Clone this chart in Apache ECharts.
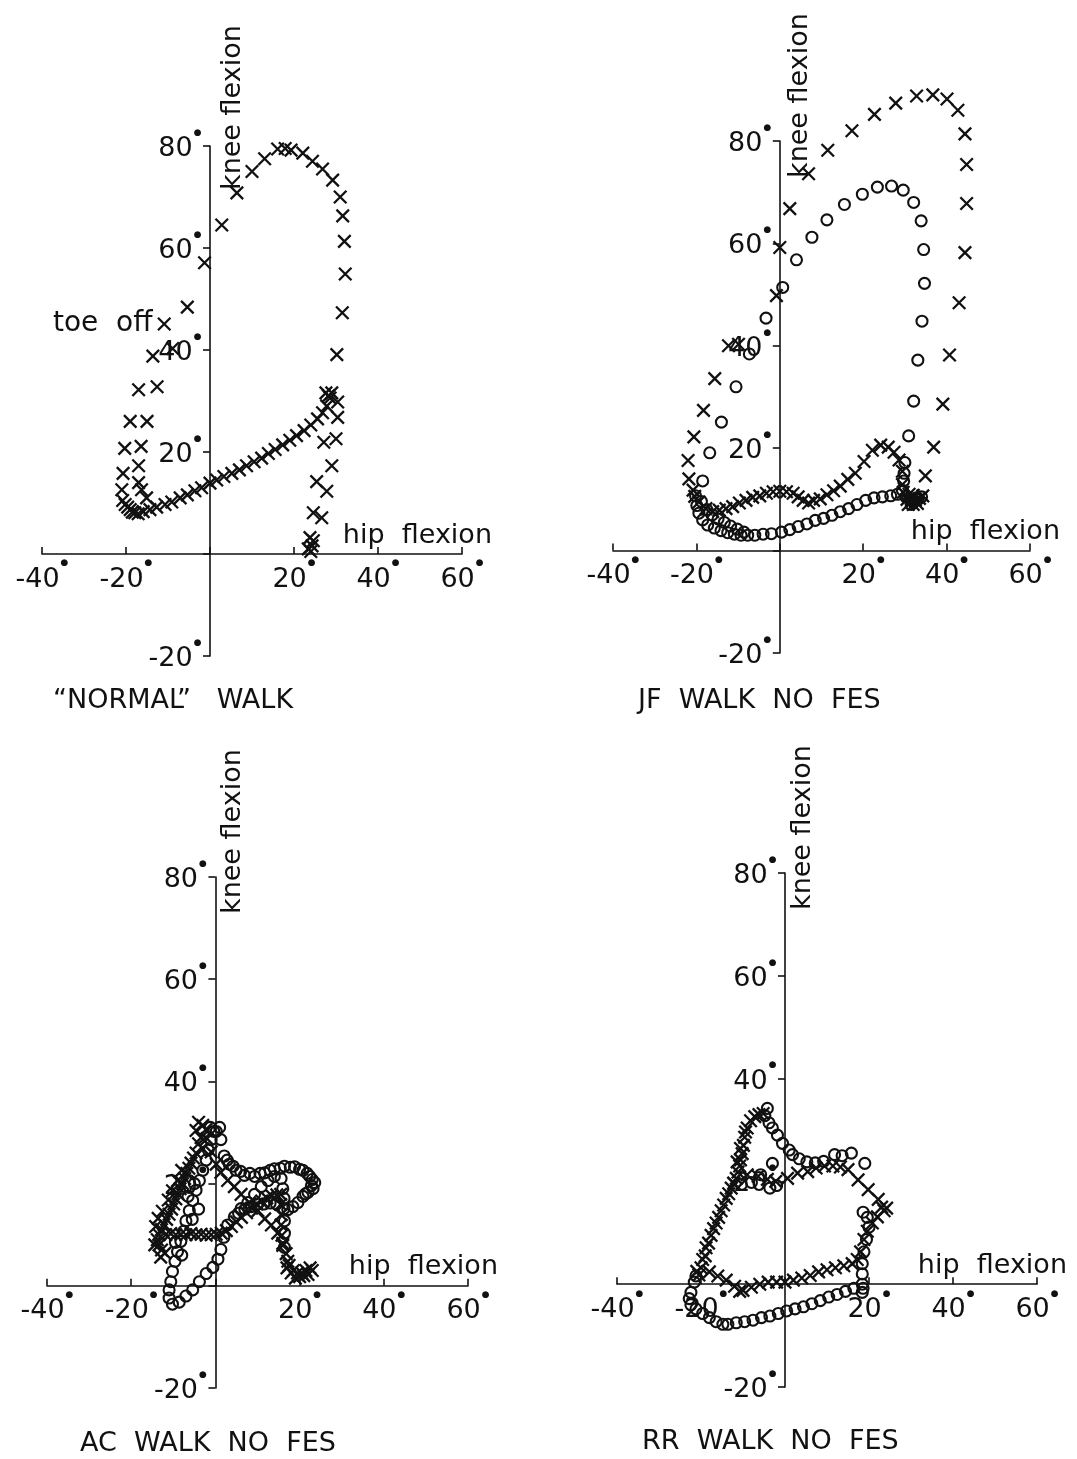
<!DOCTYPE html>
<html>
<head>
<meta charset="utf-8">
<script src="https://cdn.jsdelivr.net/npm/echarts@6/dist/echarts.min.js"></script>
<style>
html,body{margin:0;padding:0;background:#fff;}
#chart{width:1077px;height:1459px;}
</style>
</head>
<body>
<div id="chart"></div>
<script>
// ---------------- data ----------------
const xTicks = [-40, -20, 0, 20, 40, 60];
const yTicks = [-20, 0, 20, 40, 60, 80];
const panelTitles = ['\u201CNORMAL\u201D   WALK', 'JF  WALK  NO  FES', 'AC  WALK  NO  FES', 'RR  WALK  NO  FES'];
const xName = 'hip  flexion';
const yName = 'knee flexion';
const toeOffText = 'toe  off';

// Panel 1: "NORMAL" walk (crosses)
const normalCross = [
  [-10.9,45.1],[-13.6,38.8],[-8.9,40.3],[-5.4,48.4],[-1.3,57.1],[2.8,64.5],[6.4,70.8],[10.0,75.0],[13.0,77.5],
  [16.1,79.4],[17.9,79.5],[19.3,79.2],[22.1,78.6],[24.4,77.0],[26.8,75.5],[29.2,73.3],[31.0,70.0],[31.6,66.3],
  [32.0,61.3],[32.2,54.9],[31.5,47.3],[30.2,39.1],
  [28.2,31.0],[29.0,31.6],[27.6,31.6],[28.6,30.6],[30.4,29.8],[30.4,26.8],[30.0,22.6],[27.1,21.9],[29.0,17.3],
  [25.4,14.2],[27.8,12.3],[24.6,8.1],[26.6,7.1],[23.8,3.2],[24.6,2.6],[23.4,1.0],[24.0,0.5],[24.3,1.6],
  [-15.9,8.3],[-14.3,8.7],[-12.7,9.2],[-10.7,9.7],[-9.1,10.2],[-7.1,11.0],[-5.4,11.6],[-3.6,12.4],[-2.0,13.0],
  [0.0,13.9],[1.6,14.5],[3.3,15.2],[5.2,15.8],[7.0,16.5],[8.7,17.3],[10.5,18.1],[12.3,18.8],[13.9,19.7],
  [15.5,20.5],[17.3,21.4],[19.0,22.3],[20.6,23.2],[22.4,24.2],[24.0,25.3],[25.6,26.5],[26.8,27.7],[27.8,29.0],
  [-17.0,32.2],[-12.6,32.8],[-19.0,26.0],[-15.0,26.0],[-20.3,20.7],[-16.4,21.1],[-20.7,15.8],[-17.0,17.3],
  [-21.0,12.6],[-17.0,14.0],[-16.3,12.6],[-15.1,11.0],[-20.8,10.5],[-20.2,9.7],[-19.0,8.7],[-17.9,8.1],
  [-17.1,7.9],[-18.5,8.2],[-19.6,9.2]
];

// Panel 2: JF walk no FES
const jfCross = [
  [-22.0,17.6],[-20.6,22.2],[-18.3,27.4],[-15.6,33.6],[-12.3,40.0],[-9.9,40.3],[-0.8,49.8],[0.0,59.2],[2.4,66.8],
  [6.9,73.6],[11.5,78.2],[17.3,82.0],[22.7,85.2],[27.8,87.4],[32.8,88.8],[36.7,89.0],[40.1,88.2],[42.7,86.0],
  [44.4,81.4],[44.8,75.4],[44.8,67.8],[44.4,58.2],[43.0,48.4],[40.7,38.2],[39.1,28.6],[36.9,20.2],[34.9,14.6],
  [-21.8,14.0],[-20.8,11.8],[-20.4,10.6],[-19.4,9.5],[-17.7,8.2],[-16.1,7.6],[-14.5,7.9],[-12.9,8.2],[-11.3,8.6],
  [-9.7,9.3],[-8.1,9.8],[-6.5,10.4],[-4.8,10.7],[-3.2,11.2],[-1.6,11.5],[0.0,11.6],[1.6,11.5],[3.2,11.2],
  [4.4,10.5],[5.6,9.8],[6.9,9.3],[8.1,9.8],[9.7,10.1],[11.3,10.9],[12.9,11.7],[14.5,12.6],[16.3,13.9],
  [18.1,15.1],[20.2,17.4],[22.2,19.6],[24.2,20.6],[26.0,20.2],[27.4,19.2],[28.6,17.7],[29.4,15.5],[29.4,12.9],
  [29.6,11.4],
  [30.5,10.0],[31.5,9.5],[32.5,9.8],[33.5,10.2],[34.3,10.7],[31.0,11.0],[32.0,10.8],[33.0,9.2],[30.8,9.0],[32.0,9.0]
];
const jfCircle = [
  [-18.5,13.6],[-16.8,19.1],[-14.0,25.1],[-10.5,32.0],[-7.3,38.4],[-3.3,45.4],[0.7,51.4],[4.0,56.8],[7.7,61.2],
  [11.3,64.6],[15.5,67.6],[19.8,69.6],[23.4,71.0],[26.8,71.2],[29.6,70.4],[32.1,68.0],[33.9,64.4],[34.5,58.8],
  [34.7,52.2],[34.1,44.8],[33.1,37.2],[32.1,29.2],[30.9,22.4],[30.0,17.2],
  [-20.2,10.7],[-19.9,8.8],[-19.4,7.3],[-18.5,6.0],[-17.3,5.0],[-15.7,4.4],[-14.1,3.9],[-12.5,3.5],[-10.9,3.2],
  [-9.3,3.0],[-7.7,3.0],[-6.0,3.0],[-4.0,3.2],[-2.0,3.3],[0.4,3.6],[2.4,4.1],[4.4,4.7],[6.5,5.2],[8.5,5.9],
  [10.5,6.3],[12.5,6.9],[14.5,7.6],[16.5,8.2],[18.5,9.0],[20.6,9.8],[22.6,10.3],[24.6,10.5],[26.6,10.7],
  [28.2,11.0],[29.4,11.8],[29.7,13.6],[29.8,15.1],
  [-18.8,9.6],[-17.5,8.0],[-16.2,7.0],[-14.8,6.2],[-13.3,5.5],[-11.8,4.8],[-10.2,4.2],[-8.6,3.6],
  [30.2,10.5],[31.2,10.0],[32.2,9.5],[33.2,10.0],[34.0,10.5],[31.5,9.0]
];

// Panel 3: AC walk no FES
const acCross = [
  [-4.0,32.0],[-3.0,31.4],[-2.2,30.6],[-4.6,30.4],[-3.4,29.0],[-2.0,28.8],[-4.0,27.8],[-3.0,26.8],[-4.6,26.0],
  [-5.2,25.0],[-5.8,24.0],[-6.3,23.0],[-6.8,22.0],[-7.3,21.0],[-7.8,20.0],[-8.4,19.0],[-8.9,18.0],[-9.4,17.0],
  [-9.9,16.0],[-10.4,15.0],[-11.0,14.0],[-11.6,13.0],[-12.2,12.0],[-12.8,11.0],[-13.4,10.0],[-13.8,9.0],
  [-13.4,8.0],[-12.8,7.0],[-12.0,6.4],
  [-13.6,13.2],[-12.6,14.6],[-14.2,11.6],[-11.2,16.8],[-10.2,18.6],[-9.0,20.6],[-8.0,22.6],[-14.4,8.0],[-13.0,5.6],
  [-11.8,10.0],[-10.6,10.2],[-9.4,10.0],[-8.2,10.1],[-7.0,10.0],[-5.8,10.2],[-4.6,10.0],[-3.4,10.1],[-2.2,9.9],
  [-1.0,10.0],[0.2,10.1],[1.4,10.3],[2.6,10.8],
  [3.8,11.6],[5.0,12.5],[6.2,13.4],[7.4,14.3],[8.6,15.2],[9.8,16.0],[11.0,16.6],[12.2,17.2],[13.4,17.6],[14.6,17.8],
  [-1.0,26.2],[0.2,23.8],[1.3,22.2],[2.9,20.6],[4.5,19.4],[6.1,17.9],[8.1,16.3],[10.1,14.7],[11.7,13.1],
  [13.3,11.9],[14.8,10.3],[16.0,8.3],[16.8,6.3],[17.2,4.8],
  [15.5,17.9],[15.5,15.9],[15.6,13.9],[15.6,11.9],[15.8,9.9],[16.0,7.9],
  [17.5,4.0],[18.5,3.0],[19.5,2.5],[20.5,2.5],[21.5,3.0],[22.5,3.5],[23.0,3.0],[19.0,1.5],[20.0,1.8],[21.0,2.0],
  [18.0,2.5],[17.0,3.5],[22.0,2.2]
];
const acCircle = [
  [0.2,30.2],[1.3,28.6],[2.1,25.4],[3.3,23.8],[4.9,22.6],[6.9,21.6],[9.3,21.4],[11.7,22.1],[14.0,22.9],
  [16.4,23.4],[18.8,23.3],[20.8,22.6],[22.4,21.4],[23.6,20.2],[23.2,19.0],[22.0,18.3],[20.8,17.5],[19.6,16.3],
  [18.4,15.5],[17.2,14.9],
  [2.8,24.6],[4.2,23.4],[6.0,22.4],[8.2,22.0],[10.6,22.0],[13.0,22.6],[15.4,23.0],[17.8,23.2],[20.0,22.8],
  [21.8,22.0],[23.0,20.8],[22.8,19.6],[21.4,18.0],
  [12.5,20.6],[14.0,21.4],[15.6,21.0],[16.0,19.0],[16.3,17.1],[16.3,15.1],[16.4,12.7],[16.4,10.3],[16.4,7.5],
  [10.9,19.4],[9.3,17.9],[7.7,16.3],[6.1,15.1],[4.5,13.5],[2.9,11.9],[2.0,9.5],[1.3,7.1],[0.6,5.2],[-0.6,3.6],
  [-2.2,2.4],[-3.8,0.8],[-5.4,-0.8],[-7.0,-2.0],[-8.6,-3.2],[-10.2,-3.6],[-11.0,-2.4],[-11.0,-0.8],[-10.6,0.8],
  [-10.2,2.8],[-9.6,4.8],[-9.0,6.7],[-8.2,8.7],[-7.5,10.7],[-7.0,12.7],[-6.2,14.7],[-5.4,16.7],[-4.6,18.7],
  [-3.8,20.6],[-3.0,22.6],[-2.2,24.6],[-1.7,26.6],[-1.0,28.6],[-0.4,30.2],
  [5.5,14.2],[7.0,15.0],[8.5,15.5],[10.0,16.0],[11.5,16.0],[13.0,16.2],[14.5,16.0],
  [-5.0,20.0],[-6.5,17.5],[-4.0,15.0],[-5.5,13.0],[-8.0,6.0],[-9.5,8.5],[-1.2,31.0],[1.0,31.0]
];

// Panel 4: RR walk no FES
const rrCross = [
  [-20.0,3.2],[-19.6,4.8],[-18.8,7.1],[-17.6,9.5],[-16.4,11.9],[-15.2,14.3],[-14.0,16.7],[-12.8,18.7],
  [-11.6,20.6],[-10.8,23.0],[-10.2,25.4],[-9.6,28.6],[-9.0,30.4],[-8.2,31.8],[-7.2,32.6],[-6.2,33.0],[-5.2,33.2],
  [-19.0,5.5],[-18.2,8.0],[-17.0,10.8],[-15.8,13.0],[-14.6,15.4],[-13.4,17.6],[-12.2,19.6],[-11.2,21.8],
  [-10.6,24.2],[-9.9,27.0],[-9.4,29.6],[-10.6,26.4],[-11.4,23.8],[-21.0,2.5],[-20.5,1.8],
  [-18.0,2.4],[-16.0,1.6],[-14.0,0.8],[-12.0,-0.4],[-10.8,-1.4],[-10.0,-1.2],[-8.0,-0.6],[-6.0,0.0],[-4.0,0.4],
  [-2.0,0.4],[0.0,0.4],[2.0,0.8],[4.0,1.2],[6.0,1.7],[8.0,2.4],[10.0,2.8],[12.0,3.2],[14.0,3.6],[16.0,4.0],
  [17.2,4.8],[18.0,6.3],[18.8,8.7],[19.6,10.3],[20.8,11.9],[22.0,13.1],[23.6,14.3],[24.2,14.8],[23.0,15.0],
  [22.2,16.5],[19.8,18.4],[17.4,20.3],[15.0,22.3],[13.2,22.8],[11.4,23.0],[9.4,23.0],[7.4,22.6],[5.4,21.9],
  [3.0,21.6],[0.6,20.6],[-2.2,20.0],[-4.2,20.4],[-6.4,21.0],[-9.0,21.3],[-12.2,19.7]
];
const rrCircle = [
  [-4.2,34.2],[-4.8,32.8],[-3.8,31.4],[-3.0,30.4],[-1.8,29.0],[-0.6,27.4],[1.0,26.1],[1.8,25.2],
  [3.4,24.4],[5.2,23.8],[7.2,23.6],[9.2,23.9],[11.8,25.2],[13.6,25.0],[15.8,25.5],[19.0,23.5],
  [18.6,14.0],[19.6,13.0],[20.0,11.1],[19.4,8.7],[18.8,6.3],[18.4,4.0],[18.4,2.0],[18.4,0.0],[18.4,-1.6],[18.6,-0.8],
  [16.4,-0.8],[14.4,-1.4],[12.4,-2.0],[10.4,-2.5],[8.4,-3.2],[6.4,-3.8],[4.4,-4.4],[2.4,-4.8],[0.4,-5.2],
  [-1.6,-5.7],[-3.6,-6.2],[-5.6,-6.5],[-7.6,-7.0],[-9.6,-7.3],[-11.6,-7.5],[-13.6,-7.8],[-14.8,-7.8],[-16.4,-7.3],
  [-18.0,-6.5],[-19.6,-5.7],[-21.2,-4.8],[-22.4,-4.0],[-22.8,-2.8],[-22.4,-1.6],[-21.6,0.4],[-21.2,1.6],
  [-10.4,19.4],[-8.0,19.8],[-5.8,21.3],[-3.6,18.7],[-2.0,19.2],[-3.0,23.5]
];

// ---------------- styling / layout ----------------
const FONT = '"DejaVu Sans", sans-serif';
const INK = '#111111';
const FS = 27;
const grids = [
  {left: 42, top: 146, width: 420, height: 510},
  {left: 613, top: 141, width: 417, height: 512},
  {left: 47, top: 877, width: 421, height: 511},
  {left: 617, top: 873, width: 420, height: 514}
];
const kneePos = [[219, 190], [786, 178], [219, 914], [789, 910]];
const titlePos = [
  {left: 48, top: 682}, {left: 633, top: 682}, {left: 75, top: 1425}, {left: 637, top: 1423}
];
const CROSS = 'path://M0 0 L10 10 M10 0 L0 10';
const DOT = '\u25CF';

const richTick = {
  n: {fontSize: FS, fontFamily: FONT, color: INK, lineHeight: 42},
  d: {fontSize: 9, fontFamily: FONT, color: INK, lineHeight: 9, verticalAlign: 'top', padding: [0, 0, 0, 1]}
};

const xAxes = grids.map((g, i) => ({
  type: 'value', gridIndex: i, min: xTicks[0], max: xTicks[xTicks.length - 1], interval: 20,
  axisLine: {onZero: true, lineStyle: {color: INK, width: 1.6}},
  axisTick: {inside: true, length: 7, lineStyle: {color: INK, width: 1.6}},
  splitLine: {show: false},
  axisLabel: {show: false},
  name: xName, nameLocation: 'end', nameGap: 30,
  nameTextStyle: {fontSize: FS, fontFamily: FONT, color: INK, align: 'right', verticalAlign: 'bottom', padding: [0, 0, 5, 0]}
}));
const yAxes = grids.map((g, i) => ({
  type: 'value', gridIndex: i, min: yTicks[0], max: yTicks[yTicks.length - 1], interval: 20,
  axisLine: {onZero: true, lineStyle: {color: INK, width: 1.6}},
  axisTick: {inside: false, length: 7, lineStyle: {color: INK, width: 1.6}},
  splitLine: {show: false},
  axisLabel: {show: false}
}));

function crossSeries(idx, data) {
  return {type: 'scatter', xAxisIndex: idx, yAxisIndex: idx, data: data, symbol: CROSS, symbolSize: 12.5, clip: false,
    itemStyle: {color: 'none', borderColor: INK, borderWidth: 2.3, opacity: 1}, silent: true, z: 3};
}
function circleSeries(idx, data) {
  return {type: 'scatter', xAxisIndex: idx, yAxisIndex: idx, data: data, symbol: 'circle', symbolSize: 11, clip: false,
    itemStyle: {color: 'none', borderColor: INK, borderWidth: 2.1, opacity: 1}, silent: true, z: 3};
}
// tick labels placed at the crossing axes (positions come from the axes' own scales)
function xTickLabels(idx) {
  return {type: 'scatter', xAxisIndex: idx, yAxisIndex: idx, silent: true, clip: false, z: 4,
    data: xTicks.filter(v => v !== 0).map(v => [v, 0]),
    symbol: 'circle', symbolSize: 1, itemStyle: {color: 'rgba(0,0,0,0)'},
    label: {show: true, position: 'bottom', distance: 4, color: INK, opacity: 1,
      formatter: p => '{n|' + p.value[0] + '}{d|' + DOT + '}', rich: richTick}};
}
function yTickLabels(idx) {
  return {type: 'scatter', xAxisIndex: idx, yAxisIndex: idx, silent: true, clip: false, z: 4,
    data: yTicks.filter(v => v !== 0).map(v => [0, v]),
    symbol: 'circle', symbolSize: 1, itemStyle: {color: 'rgba(0,0,0,0)'},
    label: {show: true, position: 'left', distance: 8, offset: [0, 3], color: INK, opacity: 1,
      formatter: p => '{n|' + p.value[1] + '}{d|' + DOT + '}', rich: richTick}};
}

const normalData = normalCross.map((p, k) => k === 0 ? {
  value: p,
  label: {show: true, formatter: toeOffText, position: 'left', distance: 3, fontSize: 28, fontFamily: FONT, color: INK}
} : p);

const series = [
  crossSeries(0, normalData),
  crossSeries(1, jfCross), circleSeries(1, jfCircle),
  crossSeries(2, acCross), circleSeries(2, acCircle),
  crossSeries(3, rrCross), circleSeries(3, rrCircle)
];
for (let i = 0; i < 4; i++) { series.push(xTickLabels(i)); series.push(yTickLabels(i)); }

const option = {
  backgroundColor: '#ffffff',
  animation: false,
  title: panelTitles.map((t, i) => ({
    text: t, left: titlePos[i].left, top: titlePos[i].top,
    textStyle: {fontSize: FS, fontWeight: 'normal', fontFamily: FONT, color: INK}
  })),
  graphic: kneePos.map(p => ({
    type: 'text', x: p[0], y: p[1], rotation: Math.PI / 2, silent: true, z: 5,
    style: {text: yName, fill: INK, font: FS + 'px ' + FONT, align: 'left', verticalAlign: 'top'}
  })),
  grid: grids,
  xAxis: xAxes,
  yAxis: yAxes,
  series: series
};
const chart = echarts.init(document.getElementById('chart'), null, {renderer: 'canvas'});
chart.setOption(option);
</script>
</body>
</html>
